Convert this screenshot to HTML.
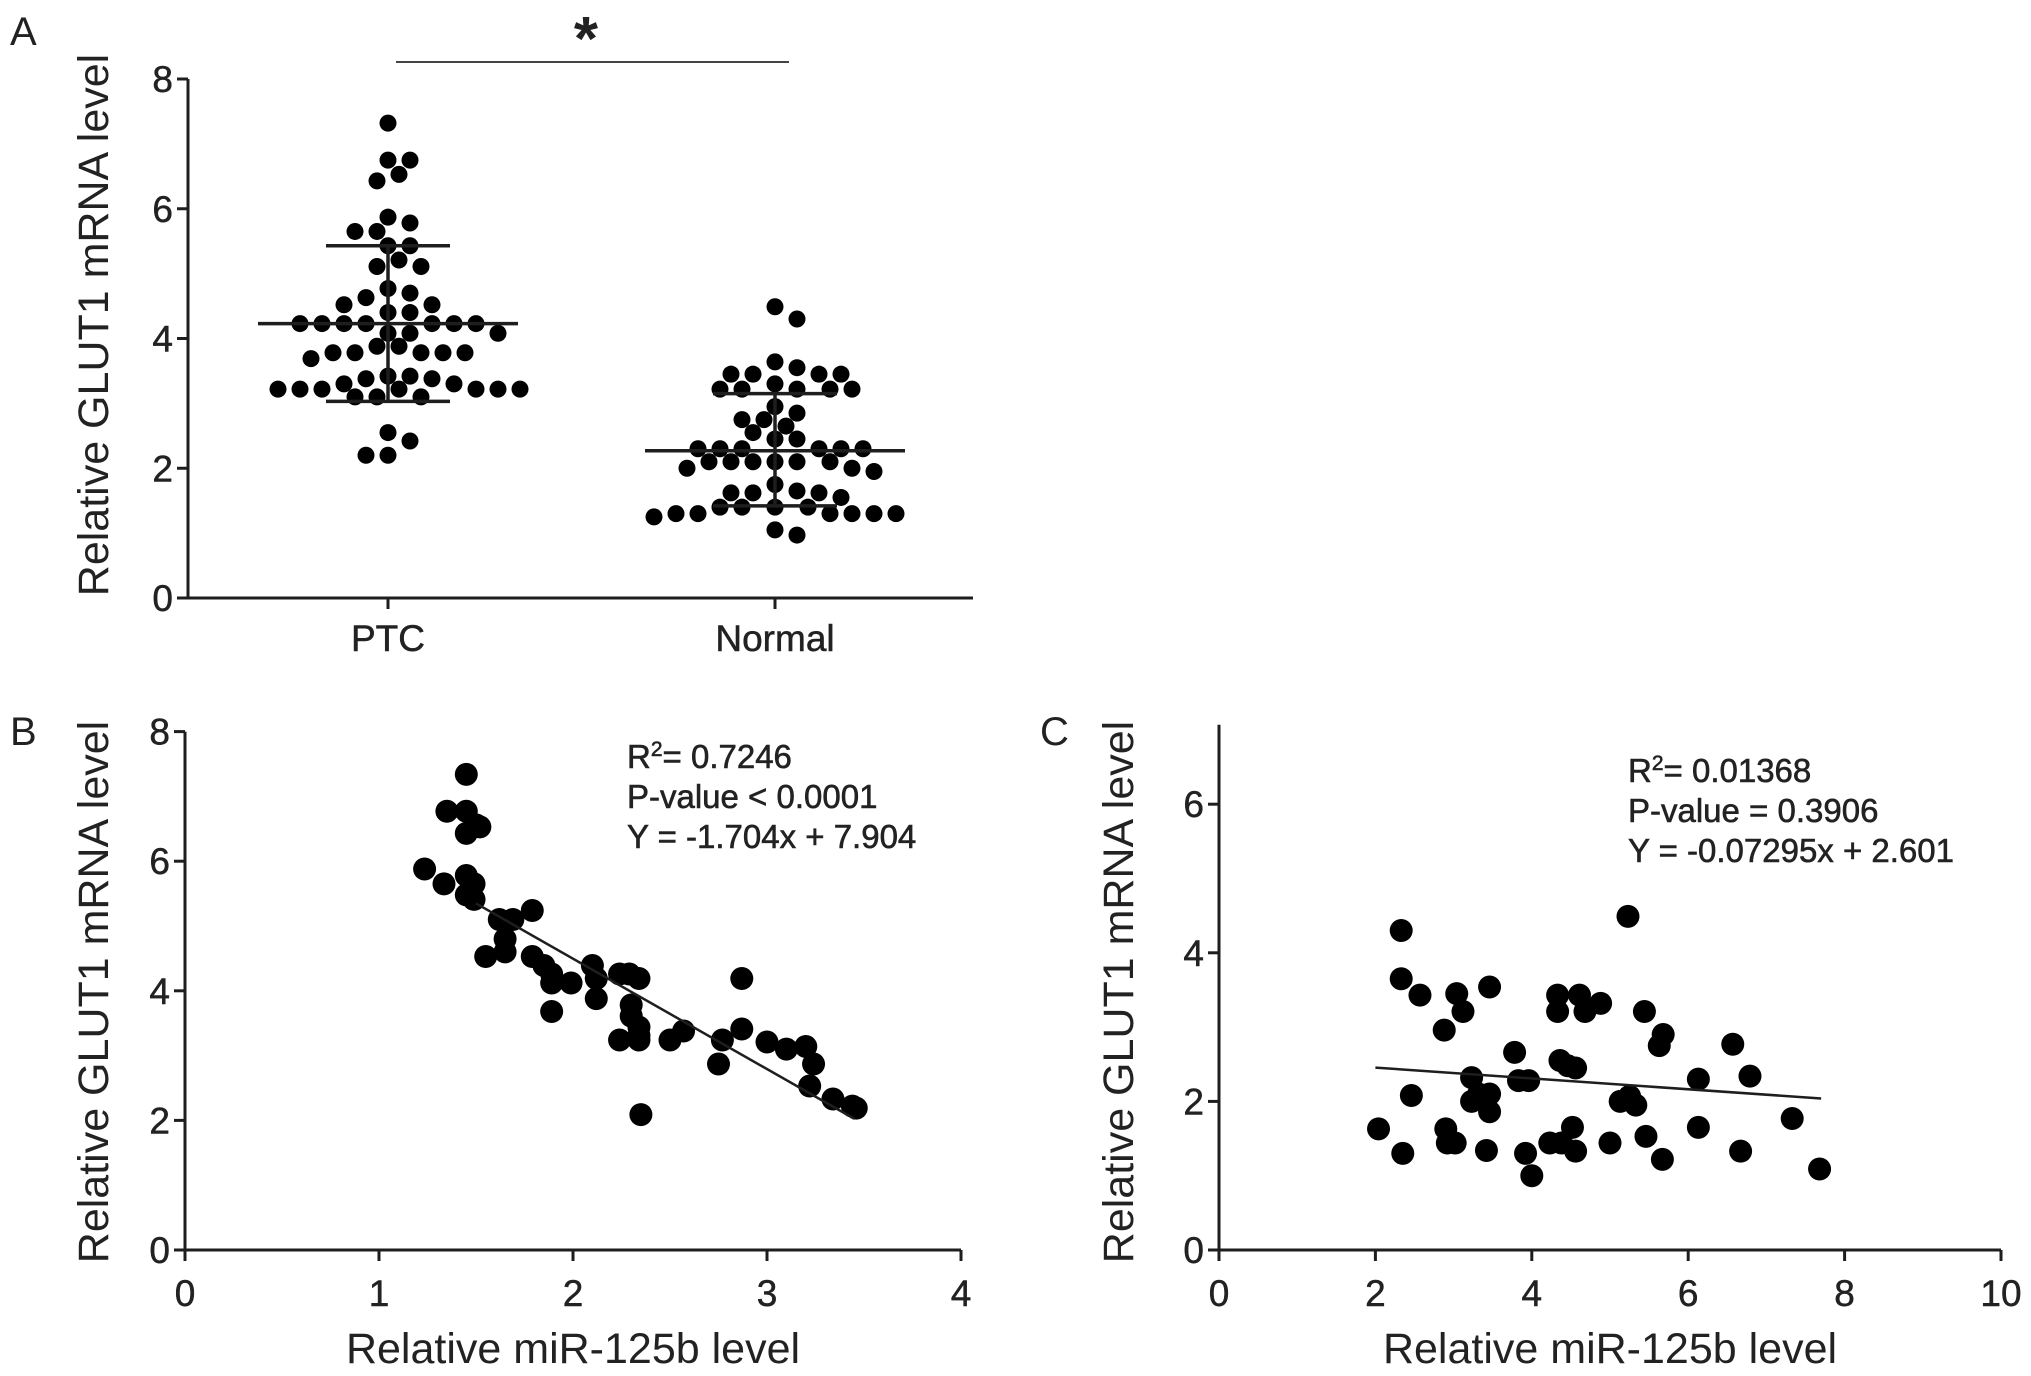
<!DOCTYPE html>
<html><head><meta charset="utf-8">
<style>
html,body{margin:0;padding:0;background:#fff;}
svg{display:block;}
text{fill:#222;}
.tk{font-family:"Liberation Sans Narrow","Liberation Sans",sans-serif;font-size:37px;stroke:#222;stroke-width:0.5px;}
.tt{font-family:"Liberation Sans",sans-serif;font-size:43px;}
.an{font-family:"Liberation Sans Narrow","Liberation Sans",sans-serif;font-size:33px;stroke:#222;stroke-width:0.6px;}
.pl{font-family:"Liberation Sans",sans-serif;font-size:40px;}
</style></head>
<body>
<svg id="fig" width="2031" height="1376" viewBox="0 0 2031 1376" xmlns="http://www.w3.org/2000/svg"></svg>
<script>
// ---- Panel A data ----
const groupsA = ["PTC", "Normal"];
const ptcValues = [7.32,6.75,6.75,6.53,6.43,5.87,5.78,5.65,5.65,5.43,5.43,5.21,5.11,5.11,4.77,4.7,4.63,4.52,4.52,4.4,4.4,
  4.23,4.23,4.23,4.23,4.23,4.23,4.23,4.08,4.08,4.08,3.88,3.88,3.78,3.78,3.78,3.78,3.78,3.69,3.42,3.42,3.38,3.38,3.3,3.3,
  3.22,3.22,3.22,3.22,3.22,3.22,3.22,3.1,3.1,3.1,2.55,2.42,2.2,2.2];
const normalValues = [4.49,4.3,3.64,3.55,3.45,3.45,3.45,3.45,3.3,3.22,3.22,3.22,3.22,3.22,2.95,2.85,2.75,2.75,2.65,2.55,2.45,2.45,
  2.3,2.3,2.3,2.3,2.3,2.3,2.1,2.1,2.1,2.1,2.1,2.1,2.0,2.0,1.95,1.75,1.65,1.62,1.62,1.62,1.55,1.4,1.4,1.4,1.4,
  1.3,1.3,1.3,1.3,1.3,1.3,1.25,1.05,0.97];
const groupMeans = [4.23, 2.27];
const groupSdHigh = [5.43, 3.15];
const groupSdLow = [3.03, 1.42];
const yTicksA = [0,2,4,6,8];
// ---- Panel B data ----
const bX = [1.235,1.335,1.35,1.45,1.45,1.45,1.5,1.52,1.45,1.49,1.45,1.49,1.62,1.69,1.79,1.55,1.65,1.65,1.79,1.85,1.89,1.89,1.99,1.89,
  2.1,2.12,2.12,2.24,2.29,2.34,2.3,2.3,2.34,2.34,2.24,2.34,2.35,2.5,2.57,2.77,2.75,2.87,2.87,3.0,3.1,3.2,3.24,3.22,3.34,3.46,3.44];
const bY = [5.88,5.65,6.77,6.77,7.34,6.43,6.56,6.53,5.78,5.65,5.48,5.41,5.1,5.1,5.24,4.53,4.8,4.6,4.53,4.39,4.26,4.12,4.12,3.68,
  4.39,4.19,3.88,4.26,4.26,4.19,3.78,3.61,3.44,3.31,3.24,3.24,2.09,3.24,3.38,3.24,2.87,4.19,3.41,3.21,3.1,3.14,2.87,2.53,2.33,2.19,2.22];
const bFit = [-1.704, 7.904];
const bFitRange = [1.5, 3.45];
const xTicksB = [0,1,2,3,4];
const yTicksB = [0,2,4,6,8];
const bStats = ["R", "= 0.7246", "P-value < 0.0001", "Y = -1.704x + 7.904"];
// ---- Panel C data ----
const cX = [2.04,2.33,2.33,2.35,2.57,2.46,2.88,2.9,2.92,3.02,3.04,3.12,3.23,3.23,3.32,3.46,3.46,3.42,3.46,3.78,3.83,3.96,3.92,4.0,
  4.23,4.38,4.33,4.33,4.36,4.46,4.56,4.61,4.68,4.88,4.52,4.56,5.0,5.13,5.25,5.33,5.23,5.44,5.46,5.63,5.68,5.67,6.13,6.13,6.57,6.67,6.79,7.33,7.68];
const cY = [1.63,4.3,3.65,1.3,3.43,2.08,2.96,1.63,1.44,1.44,3.45,3.21,2.32,2.0,2.1,2.1,1.86,1.34,3.54,2.66,2.28,2.28,1.3,1.0,
  1.44,1.44,3.43,3.21,2.55,2.48,2.45,3.43,3.21,3.32,1.65,1.33,1.44,2.0,2.07,1.95,4.49,3.21,1.53,2.75,2.9,1.22,2.3,1.65,2.77,1.33,2.34,1.77,1.09];
const cFit = [-0.07295, 2.601];
const cFitRange = [2.0, 7.7];
const xTicksC = [0,2,4,6,8,10];
const yTicksC = [0,2,4,6];
const cStats = ["R", "= 0.01368", "P-value = 0.3906", "Y = -0.07295x + 2.601"];

const NS = "http://www.w3.org/2000/svg";
const svg = document.getElementById("fig");
function el(tag, attrs, parent, txt){
  const e = document.createElementNS(NS, tag);
  for (const k in attrs) e.setAttribute(k, attrs[k]);
  if (txt !== undefined) e.textContent = txt;
  (parent || svg).appendChild(e);
  return e;
}
const INK = "#1e1e1e";

function makeAxes(g, sx, sy, xTicks, yTicks, xmin, xmax, ymin, ymax){
  const yl = el("line", {x1:sx(xmin), y1:sy(ymin)+1.5, x2:sx(xmin), y2:sy(ymax), stroke:INK, "stroke-width":3}, g);
  
  
  const xl = el("line", {x1:sx(xmin)-1.5, y1:sy(ymin), x2:sx(xmax), y2:sy(ymin), stroke:INK, "stroke-width":3}, g);
  
  
  yTicks.forEach(v=>{
    const t = el("line", {x1:sx(xmin)-11, y1:sy(v), x2:sx(xmin), y2:sy(v), stroke:INK, "stroke-width":3}, g);
    
    
    const l = el("text", {x:sx(xmin)-15, y:sy(v)+13, "text-anchor":"end", class:"tk"}, g, String(v));
    
    
  });
  if (xTicks) xTicks.forEach(v=>{
    const t = el("line", {x1:sx(v), y1:sy(ymin), x2:sx(v), y2:sy(ymin)+11, stroke:INK, "stroke-width":3}, g);
    
    
    const l = el("text", {x:sx(v), y:sy(ymin)+56, "text-anchor":"middle", class:"tk"}, g, String(v));
    
    
  });
}
function yTitle(g, x, y, txt){
  const t = el("text", {x:0, y:0, transform:`translate(${x},${y}) rotate(-90)`, "text-anchor":"middle", class:"tt"}, g, txt);
  
  
}
function stats(g, x, y0, lines){
  const t1 = el("text", {x:x, y:y0, class:"an"}, g);
  
  
  el("tspan", {}, t1, lines[0]);
  el("tspan", {dy:-12, "font-size":"21px"}, t1, "2");
  el("tspan", {dy:12}, t1, lines[1]);
  const t2 = el("text", {x:x, y:y0+40, class:"an"}, g, lines[2]);
  
  
  const t3 = el("text", {x:x, y:y0+80, class:"an"}, g, lines[3]);
  
  
}

// ===== Panel A =====
(function(){
  const g = el("g", {});
  
  
  const y0 = 598, y8 = 79, axX = 188, axEnd = 973;
  const sy = v => y0 - (y0 - y8) * v / 8;
  const catX = [388, 775];
  const lab = el("text", {x:10, y:45, class:"pl"}, g, "A");
  
  
  const yl = el("line", {x1:axX, y1:y0+1.5, x2:axX, y2:y8, stroke:INK, "stroke-width":3}, g);
  
  
  const xl = el("line", {x1:axX-1.5, y1:y0, x2:axEnd, y2:y0, stroke:INK, "stroke-width":3}, g);
  
  
  yTicksA.forEach(v=>{
    const t = el("line", {x1:axX-11, y1:sy(v), x2:axX, y2:sy(v), stroke:INK, "stroke-width":3}, g);
    
    
    const l = el("text", {x:axX-15, y:sy(v)+13, "text-anchor":"end", class:"tk"}, g, String(v));
    
    
  });
  groupsA.forEach((c,i)=>{
    const t = el("line", {x1:catX[i], y1:y0, x2:catX[i], y2:y0+11, stroke:INK, "stroke-width":3}, g);
    
    
    const l = el("text", {x:catX[i], y:y0+53, "text-anchor":"middle", class:"tk", "font-size":"38px"}, g, c);
    
    
  });
  yTitle(g, 108, 325, "Relative GLUT1 mRNA level");
  const sl = el("line", {x1:396, y1:62, x2:789, y2:62, stroke:"#444", "stroke-width":2}, g);
  
  
  const st = el("text", {x:586, y:60, "text-anchor":"middle", "font-family":"Liberation Sans, sans-serif", "font-size":"62px", "font-weight":"bold"}, g, "*");
  
  
  const r = 8.5, step = 22, minD = 17;
  [ptcValues, normalValues].forEach((vals, gi)=>{
    const placed = [];
    const sorted = vals.slice().sort((a,b)=>b-a);
    sorted.forEach(v=>{
      const y = sy(v);
      let x = catX[gi];
      for (let k=0;k<40;k++){
        const off = k===0?0:(k%2? Math.ceil(k/2):-Math.ceil(k/2))*step/2;
        const cx = catX[gi] + off;
        if (placed.every(p=>Math.hypot(p[0]-cx,p[1]-y)>=minD)){ x = cx; break; }
      }
      placed.push([x,y]);
      const d = el("circle", {cx:x, cy:y, r:r, fill:"#000"}, g);
      
      
    });
    const mw = 130, cw = 62;
    const m = el("line", {x1:catX[gi]-mw, y1:sy(groupMeans[gi]), x2:catX[gi]+mw, y2:sy(groupMeans[gi]), stroke:INK, "stroke-width":3.5}, g);
    
    
    const v = el("line", {x1:catX[gi], y1:sy(groupSdHigh[gi]), x2:catX[gi], y2:sy(groupSdLow[gi]), stroke:INK, "stroke-width":3.5}, g);
    
    
    [groupSdHigh[gi], groupSdLow[gi]].forEach(sv=>{
      const c = el("line", {x1:catX[gi]-cw, y1:sy(sv), x2:catX[gi]+cw, y2:sy(sv), stroke:INK, "stroke-width":3.5}, g);
      
      
    });
  });
})();

// ===== Panel B =====
(function(){
  const g = el("g", {});
  
  
  const x0 = 185, xu = 194, y0 = 1250, yu = 64.8;
  const sx = v => x0 + v*xu;
  const sy = v => y0 - v*yu;
  const lab = el("text", {x:10, y:745, class:"pl"}, g, "B");
  
  
  makeAxes(g, sx, sy, xTicksB, yTicksB, 0, 4, 0, 8);
  yTitle(g, 108, 992, "Relative GLUT1 mRNA level");
  const xt = el("text", {x:573, y:1363, "text-anchor":"middle", class:"tt"}, g, "Relative miR-125b level");
  
  
  bX.forEach((xv,i)=>{
    const d = el("circle", {cx:sx(xv), cy:sy(bY[i]), r:11.5, fill:"#000"}, g);
    
    
  });
  const f = v => bFit[0]*v + bFit[1];
  const ln = el("line", {x1:sx(bFitRange[0]), y1:sy(f(bFitRange[0])), x2:sx(bFitRange[1]), y2:sy(f(bFitRange[1])), stroke:INK, "stroke-width":2.5}, g);
  
  
  stats(g, 627, 768, bStats);
})();

// ===== Panel C =====
(function(){
  const g = el("g", {});
  
  
  const x0 = 1219, xu = 78.2, y0 = 1250, yu = 74.3;
  const sx = v => x0 + v*xu;
  const sy = v => y0 - v*yu;
  const lab = el("text", {x:1040, y:745, class:"pl"}, g, "C");
  
  
  makeAxes(g, sx, sy, xTicksC, yTicksC, 0, 10, 0, 7.07);
  yTitle(g, 1133, 992, "Relative GLUT1 mRNA level");
  const xt = el("text", {x:1610, y:1363, "text-anchor":"middle", class:"tt"}, g, "Relative miR-125b level");
  
  
  cX.forEach((xv,i)=>{
    const d = el("circle", {cx:sx(xv), cy:sy(cY[i]), r:11.5, fill:"#000"}, g);
    
    
  });
  const f = v => cFit[0]*v + cFit[1];
  const ln = el("line", {x1:sx(cFitRange[0]), y1:sy(f(cFitRange[0])), x2:sx(cFitRange[1]), y2:sy(f(cFitRange[1])), stroke:INK, "stroke-width":2.5}, g);
  
  
  stats(g, 1628, 782, cStats);
})();
</script>
</body></html>
